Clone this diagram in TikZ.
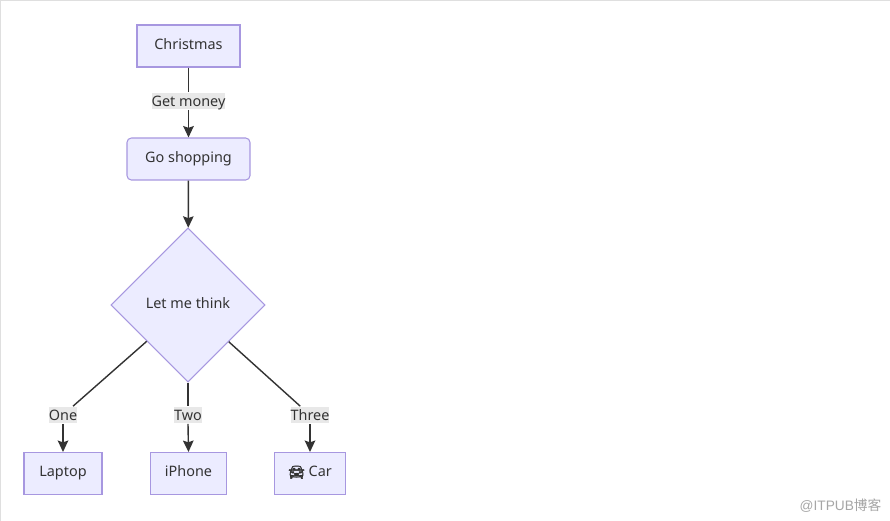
\documentclass[tikz,border=0pt]{standalone}
\usepackage{fontspec}
\setmainfont{Noto Sans}
\newfontfamily\emojifont[FakeBold=3]{Noto Emoji}
\newfontfamily\cjkfont{Noto Sans CJK SC}
\newfontfamily\markfont{Liberation Sans}
\usetikzlibrary{arrows.meta,shapes.geometric}
\definecolor{boxfill}{HTML}{ECECFF}
\definecolor{boxline}{HTML}{A797E0}
\definecolor{inkgray}{HTML}{333333}
\definecolor{labelgray}{HTML}{E8E8E8}
\tikzset{
  flowbox/.style={draw=boxline,fill=boxfill,text=inkgray,line width=0.6pt,font=\fontsize{8.2}{10}\selectfont,inner sep=0pt,minimum height=0.84cm,text height=6pt,text depth=2.3pt},
  flowlabel/.style={fill=labelgray,text=inkgray,font=\fontsize{8.2}{10}\selectfont,inner sep=0pt,text height=7.9pt,text depth=1.7pt},
  flowline/.style={draw=inkgray,line width=0.8pt},
  flowarrow/.style={flowline,-{Stealth[length=6.5pt,width=6pt,inset=1pt]}}
}
\begin{document}
\begin{tikzpicture}[x=0.02cm,y=-0.02cm]
  \useasboundingbox (0,0) rectangle (890,521);
  \fill[white] (0,0) rectangle (890,521);
  % page edges
  \draw[gray!25,line width=0.7pt] (0,0.5) -- (890,0.5);
  \draw[gray!25,line width=0.7pt] (0.7,0) -- (0.7,521);

  \node[flowbox,minimum width=2.06cm] (christmas) at (188.5,46) {Christmas};
  \node[flowbox,minimum width=2.46cm,rounded corners=2.5pt] (shopping) at (188.5,159) {Go shopping};
  \node[flowbox,diamond,aspect=1,minimum width=3.08cm,minimum height=3.08cm] (think) at (188,305) {Let me think};
  \node[flowbox,minimum width=1.56cm] (laptop) at (63,473.5) {Laptop};
  \node[flowbox,minimum width=1.52cm] (iphone) at (188.5,473.5) {iPhone};
  \node[flowbox,minimum width=1.42cm] (car) at (310,473.5) {{\emojifont\fontsize{7.5}{10}\selectfont\symbol{"1F698}} Car};

  \node[flowlabel] (money) at (188.5,101) {Get money};
  \node[flowlabel] (one) at (63,415) {One};
  \node[flowlabel] (two) at (188,415) {Two};
  \node[flowlabel] (three) at (310,415) {Three};

  \draw[flowline] (christmas) -- (money);
  \draw[flowarrow] (money) -- (shopping);
  \draw[flowarrow] (shopping) -- (think);
  \draw[flowline] (think) -- (one);
  \draw[flowline] (think) -- (two);
  \draw[flowline] (think) -- (three);
  \draw[flowarrow] (one) -- (laptop);
  \draw[flowarrow] (two.south) -- (iphone.north);
  \draw[flowarrow] (three) -- (car);

  \node[text=gray!70,font=\fontsize{7.8}{10}\selectfont,inner sep=0pt] (watermark) at (840.5,506) {{\markfont @ITPUB}{\cjkfont 博客}};
\end{tikzpicture}
\end{document}
